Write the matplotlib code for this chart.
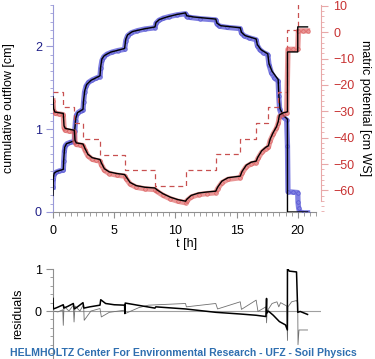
import matplotlib
matplotlib.use('Agg')
import matplotlib.pyplot as plt
from matplotlib.ticker import MultipleLocator

plt.rcParams['font.family'] = ['Liberation Sans', 'DejaVu Sans']

# measured cumulative outflow [cm]
t_out = [0.0, 0.03, 0.1, 0.25, 0.5, 0.84, 0.88, 0.93, 1.0, 1.15, 1.4, 1.74, 1.78, 1.84, 1.92, 2.05, 2.25, 2.45,
         2.5, 2.58, 2.7, 2.9, 3.2, 3.5, 3.84, 3.9, 4.0, 4.15, 4.4, 4.8, 5.3, 5.85, 5.95, 6.1, 6.4, 6.9, 7.5, 8.33,
         8.42, 8.65, 9.0, 9.5, 10.1, 10.83, 10.93, 11.2, 12.0, 13.3, 13.4, 13.6, 14.2, 15.3, 15.4, 15.6, 16.0, 16.6,
         16.7, 16.9, 17.2, 17.55, 17.65, 17.85, 18.1, 18.4, 18.45, 18.52, 18.7, 19.1, 19.16, 19.2, 19.6, 20.0,
         20.02, 20.07, 20.15, 20.5, 20.8]
v_out = [0.30, 0.40, 0.46, 0.48, 0.495, 0.505, 0.62, 0.74, 0.80, 0.825, 0.84, 0.85, 0.98, 1.10, 1.17, 1.20, 1.22, 1.23,
         1.33, 1.45, 1.52, 1.565, 1.595, 1.615, 1.635, 1.74, 1.83, 1.875, 1.905, 1.93, 1.95, 1.965, 2.07, 2.13, 2.165,
         2.19, 2.21, 2.225, 2.28, 2.315, 2.34, 2.36, 2.38, 2.395, 2.36, 2.35, 2.335, 2.32, 2.27, 2.245, 2.23, 2.215,
         2.16, 2.13, 2.105, 2.08, 2.01, 1.96, 1.925, 1.90, 1.78, 1.68, 1.62, 1.58, 1.40, 1.24, 1.16, 1.11, 0.80,
         0.245, 0.24, 0.235, 0.12, 0.05, 0.0, -0.01, -0.01]

# fitted outflow
t_out_fit = [0.0, 0.03, 0.1, 0.3, 0.84, 0.88, 0.95, 1.1, 1.74, 1.78, 1.86, 2.0, 2.45, 2.5, 2.6, 2.75, 3.1, 3.84, 3.9,
             4.0, 4.2, 4.7, 5.85, 5.95, 6.1, 6.5, 7.4, 8.33, 8.42, 8.7, 9.3, 10.1, 10.83, 10.93, 11.5, 13.3, 13.4,
             13.7, 15.3, 15.4, 15.7, 16.6, 16.7, 17.0, 17.55, 17.65, 17.9, 18.4, 18.45, 18.55, 18.8, 19.16, 19.16,
             20.8]
v_out_fit = [0.20, 0.42, 0.47, 0.49, 0.515, 0.64, 0.78, 0.825, 0.86, 1.0, 1.13, 1.2, 1.24, 1.35, 1.47, 1.54, 1.59,
             1.645, 1.76, 1.85, 1.89, 1.93, 1.975, 2.09, 2.14, 2.18, 2.21, 2.235, 2.29, 2.325, 2.355, 2.385, 2.405,
             2.37, 2.355, 2.33, 2.28, 2.25, 2.225, 2.17, 2.13, 2.09, 2.02, 1.96, 1.91, 1.79, 1.70, 1.60, 1.42, 1.25,
             1.17, 1.12, 0.0, 0.0]

# measured matric potential [cm WS]
t_pot = [0.0, 0.05, 0.2, 0.5, 0.84, 0.9, 1.0, 1.3, 1.74, 1.8, 1.9, 2.2, 2.45, 2.6, 2.85, 3.2, 3.5, 3.84, 3.95, 4.2,
         4.6, 5.2, 5.85, 6.0, 6.3, 6.8, 7.5, 8.33, 8.5, 9.0, 9.6, 10.2, 10.83, 10.95, 11.3, 11.9, 12.6, 13.3, 13.45,
         13.8, 14.3, 15.3, 15.45, 15.8, 16.2, 16.6, 16.75, 17.05, 17.4, 17.6, 17.75, 18.0, 18.26, 18.4, 18.5, 18.8,
         19.1, 19.2, 19.6, 20.0, 20.05, 20.4, 20.8]
p_pot = [-26.0, -30.0, -30.8, -31.0, -31.3, -36.2, -37.2, -37.5, -37.8, -41.6, -42.6, -42.8, -43.0, -44.6, -46.9,
         -48.2, -48.6, -48.9, -50.3, -52.4, -53.6, -54.2, -54.6, -55.7, -57.6, -58.8, -59.4, -59.7, -60.4, -61.9,
         -63.2, -64.1, -64.7, -63.9, -62.5, -61.6, -61.2, -60.9, -59.4, -57.1, -55.8, -55.2, -53.4, -51.0, -49.9,
         -49.5, -47.9, -45.6, -44.2, -43.7, -41.1, -38.6, -36.5, -34.6, -32.0, -31.2, -30.8, -6.5, -6.5, -6.5, 0.5,
         0.5, 0.5]

# fitted matric potential
t_pot_fit = [0.0, 0.05, 0.15, 0.84, 0.9, 1.0, 1.74, 1.8, 1.9, 2.45, 2.6, 2.85, 3.2, 3.84, 3.95, 4.2, 4.6, 5.2, 5.85,
             6.0, 6.3, 6.8, 7.5, 8.33, 8.5, 9.0, 9.6, 10.2, 10.83, 10.95, 11.3, 11.9, 12.6, 13.3, 13.45, 13.8, 14.3,
             15.3, 15.45, 15.8, 16.2, 16.6, 16.75, 17.05, 17.4, 17.6, 17.75, 18.0, 18.26, 18.4, 18.5, 18.8, 19.16,
             19.16, 20.0, 20.0, 20.8]
p_pot_fit = [-24.5, -29.0, -30.3, -30.8, -35.5, -36.5, -37.2, -41.0, -42.0, -42.4, -44.0, -46.3, -47.6, -48.3, -49.6,
             -51.8, -53.0, -53.6, -54.0, -55.0, -57.0, -58.2, -58.8, -59.1, -59.8, -61.3, -62.6, -63.5, -64.1, -63.3,
             -61.9, -61.0, -60.6, -60.3, -58.8, -56.5, -55.2, -54.6, -52.8, -50.4, -49.3, -48.9, -47.3, -45.0, -43.6,
             -43.1, -40.5, -38.0, -35.9, -34.0, -31.4, -30.6, -30.2, -7.5, -7.5, 2.0, 2.0]

# pressure boundary condition (steps)
t_bc = [0.0, 0.84, 1.74, 2.45, 3.84, 5.85, 8.33, 10.83, 13.3, 15.3, 16.6, 17.6, 18.4, 19.1, 20.0, 20.8]
p_bc = [-22.8, -28.5, -34.3, -40.5, -46.4, -52.3, -58.2, -52.3, -46.3, -40.5, -34.3, -28.4, -22.6, 1.0, 10.9, 10.9]

# residuals
t_res1 = [0.0, 0.03, 0.3, 0.84, 0.88, 1.2, 1.66, 1.74, 2.0, 2.45, 2.52, 3.0, 3.84, 3.9, 4.3, 5.0, 5.85, 5.87, 5.9,
          8.33, 8.4, 10.83, 13.3, 15.3, 16.6, 17.4, 17.45, 17.47, 17.6, 18.0, 18.5, 19.0, 19.15, 19.16, 19.3, 19.9,
          20.0, 20.2, 20.8]
r_res1 = [0.30, 0.05, 0.08, 0.15, 0.07, 0.11, 0.18, 0.05, 0.10, 0.20, 0.07, 0.10, 0.14, 0.27, 0.18, 0.15, 0.14,
          -0.06, 0.19, 0.07, 0.10, 0.05, -0.03, -0.07, -0.10, -0.13, 0.30, -0.05, 0.0, -0.1, -0.25, -0.33, -0.45,
          1.02, 0.95, 0.93, -0.03, -0.01, -0.08]
t_res2 = [0.0, 0.4, 0.8, 0.84, 0.9, 1.3, 1.66, 1.72, 1.8, 2.2, 2.5, 2.55, 3.1, 3.84, 3.95, 4.6, 5.85, 5.9, 7.0, 7.8,
          10.83, 10.9, 13.3, 13.45, 15.3, 15.4, 16.6, 16.75, 17.4, 17.45, 17.5, 17.9, 18.3, 18.45, 18.6, 19.1, 19.16,
          19.2, 19.5, 19.9, 20.0, 20.02, 20.1, 20.8]
r_res2 = [0.0, -0.02, 0.03, -0.34, 0.12, 0.0, 0.14, -0.26, 0.12, 0.0, 0.16, -0.22, 0.0, 0.06, -0.14, -0.03, 0.02,
          -0.06, 0.08, 0.14, 0.18, 0.10, 0.18, 0.05, 0.22, 0.04, 0.26, -0.01, 0.10, -0.28, 0.0, 0.18, 0.22, 0.10,
          0.20, 0.12, -0.70, 0.10, 0.22, 0.25, 0.20, -0.80, -0.45, -0.45]

navy = '#202088'
red = '#c83232'

fig = plt.figure(figsize=(3.75, 3.59), dpi=100)
ax = fig.add_axes([53 / 375, 1 - 212 / 359, 268 / 375, 207 / 359])
ax2 = ax.twinx()

# outflow on left axis
ax.plot(t_out, v_out, color='#5555d8', lw=3.8, alpha=0.75, zorder=2)
ax.plot(t_out, v_out, 'o', ms=2.6, mfc='none', mec='#4848cc', mew=0.5, alpha=0.8, zorder=3)
ax.plot(t_out_fit, v_out_fit, color='black', lw=1.0, zorder=4)

# potential on right axis
ax2.plot(t_bc, p_bc, color='#c85050', lw=0.9, ls=(0, (4, 3)), drawstyle='steps-post')
ax2.plot(t_pot, p_pot, color='#e06a6a', lw=3.8, alpha=0.7, zorder=2)
ax2.plot(t_pot, p_pot, 'o', ms=2.6, mfc='none', mec='#d85050', mew=0.5, alpha=0.8, zorder=3)
ax2.plot(t_pot_fit, p_pot_fit, color='black', lw=1.0, zorder=4)

ax.set_xlim(0, 21.9)
ax.set_ylim(0, 2.5)
ax2.set_ylim(-68.2, 10.3)

for a in (ax, ax2):
    a.spines['top'].set_visible(False)
ax.spines['right'].set_visible(False)
ax2.spines['left'].set_visible(False)
ax2.spines['bottom'].set_visible(False)
ax.spines['left'].set_color('#9a9ad8')
ax.spines['bottom'].set_color('#909090')
ax.spines['bottom'].set_bounds(0, 21.5)
ax2.spines['right'].set_color('#e8a8a8')
ax2.spines['right'].set_bounds(-64, 10.3)

ax.yaxis.set_major_locator(MultipleLocator(1))
ax.yaxis.set_minor_locator(MultipleLocator(0.1))
ax.xaxis.set_major_locator(MultipleLocator(5))
ax.xaxis.set_minor_locator(MultipleLocator(0.5))
ax2.yaxis.set_major_locator(MultipleLocator(10))
ax2.yaxis.set_minor_locator(MultipleLocator(2))

ax.tick_params(axis='y', which='both', colors='#9a9ad8', labelcolor=navy, labelsize=9, pad=3)
ax.tick_params(axis='y', which='major', length=5)
ax.tick_params(axis='y', which='minor', length=2.5)
ax.tick_params(axis='x', which='both', colors='#909090', labelcolor='black', labelsize=9, pad=5)
ax.tick_params(axis='x', which='major', length=4)
ax.tick_params(axis='x', which='minor', length=3)
ax2.tick_params(axis='y', which='both', colors='#e8a8a8', labelcolor=red, labelsize=9, pad=4)
ax2.tick_params(axis='y', which='major', length=5)
ax2.tick_params(axis='y', which='minor', length=2.5)
ax2.set_yticks([-60, -50, -40, -30, -20, -10, 0, 10])

ax.set_xlabel('t [h]', fontsize=9, labelpad=1)
ax.set_ylabel('cumulative outflow [cm]', fontsize=9, labelpad=14)
ax2.set_ylabel('matric potential [cm WS]', fontsize=9, rotation=270, labelpad=12)

# residual panel
axr = fig.add_axes([53 / 375, 0.0, 268 / 375, 90 / 359])
axr.axhline(0, xmin=0, xmax=1, color='#a0a0a0', lw=0.8, zorder=1)
axr.plot(t_res2, r_res2, color='#707070', lw=0.6, zorder=2)
axr.plot(t_res1, r_res1, color='black', lw=1.1, zorder=3)
axr.set_xlim(0, 21.9)
axr.set_ylim(-1.14, 1)
for s in ('top', 'right', 'bottom'):
    axr.spines[s].set_visible(False)
axr.spines['left'].set_color('#909090')
axr.set_xticks([])
axr.set_yticks([0, 1])
axr.yaxis.set_minor_locator(MultipleLocator(0.2))
axr.tick_params(axis='y', which='both', colors='#909090', labelcolor='black', labelsize=9, pad=3)
axr.tick_params(axis='y', which='major', length=5)
axr.tick_params(axis='y', which='minor', length=2.5)
axr.set_ylabel('residuals', fontsize=9, labelpad=8)
axr.patch.set_alpha(0)

fig.text(10 / 375, 1 - 353 / 359, 'HELMHOLTZ Center For Environmental Research - UFZ - Soil Physics',
         color='#2f6fb0', fontsize=7.6, fontweight='bold', va='center', ha='left')

fig.savefig('out.png', dpi=100)
